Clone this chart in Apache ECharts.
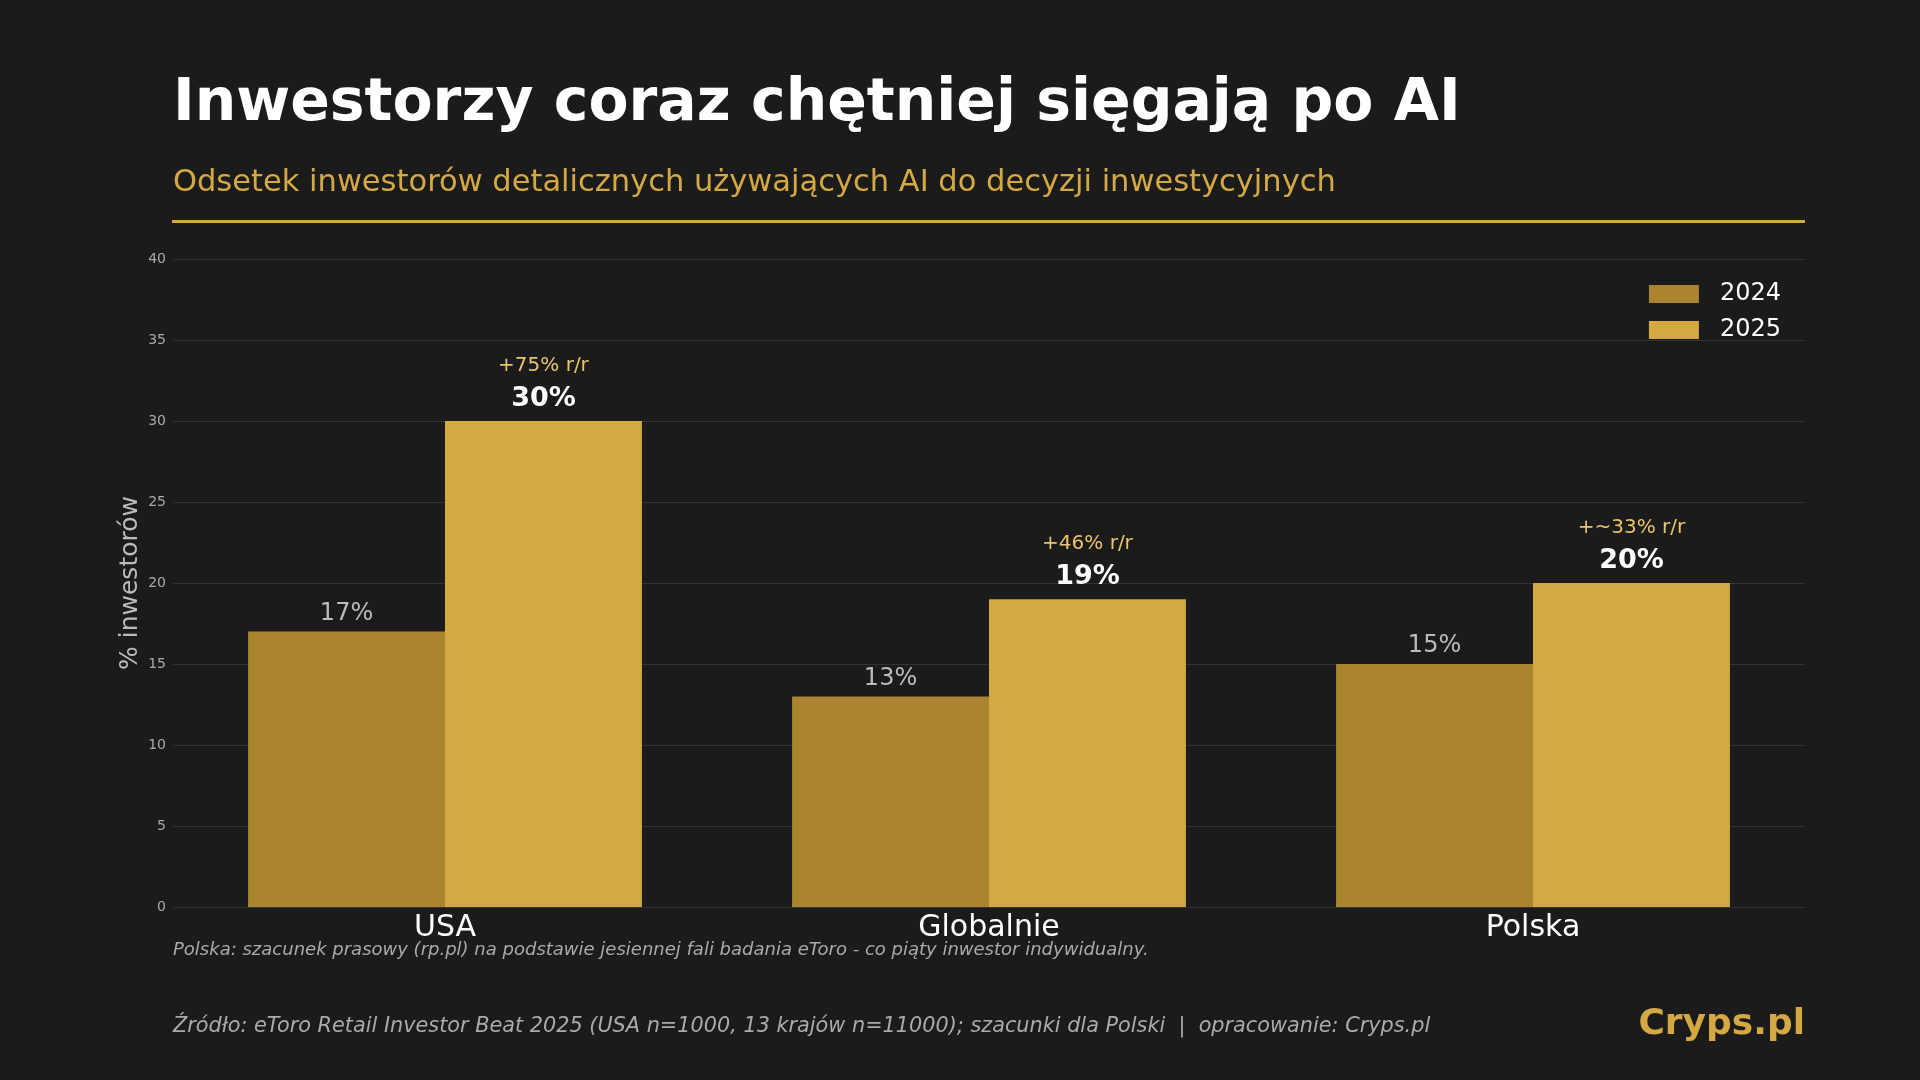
<!DOCTYPE html>
<html><head><meta charset="utf-8">
<script src="https://cdn.jsdelivr.net/npm/echarts@6/dist/echarts.min.js"></script>
<style>html,body{margin:0;padding:0;background:#1b1b1b}#c{width:1920px;height:1080px}</style>
</head><body><div id="c"></div>
<script>
const categories = ['USA', 'Globalnie', 'Polska'];
const values2024 = [17, 13, 15];
const values2025 = [30, 19, 20];
const growthLabels = ['+75% r/r', '+46% r/r', '+~33% r/r'];
const yTicks = { min: 0, max: 40, interval: 5 };

const FONT = 'DejaVu Sans';
const chart = echarts.init(document.getElementById('c'));
chart.setOption({
  backgroundColor: '#1b1b1b',
  animation: false,
  textStyle: { fontFamily: FONT },
  grid: { left: 173, right: 115, top: 259, bottom: 173 },
  legend: {
    right: 134, top: 277, orient: 'vertical',
    itemWidth: 50, itemHeight: 18, itemGap: 12,
    icon: 'rect',
    textStyle: { color: '#ffffff', fontSize: 24, fontFamily: FONT, padding: [0, 0, 0, 16] },
    data: ['2024', '2025']
  },
  xAxis: {
    type: 'category', data: categories,
    axisLine: { show: false }, axisTick: { show: false },
    axisLabel: { color: '#ffffff', fontSize: 30, margin: 6, fontFamily: FONT }
  },
  yAxis: {
    type: 'value', min: yTicks.min, max: yTicks.max, interval: yTicks.interval,
    name: '% inwestorów', nameLocation: 'middle', nameGap: 30, nameMoveOverlap: false,
    nameTextStyle: { color: '#bbbbbb', fontSize: 25, fontFamily: FONT },
    axisLabel: { color: '#aaaaaa', fontSize: 14, margin: 7, fontFamily: FONT },
    splitLine: { lineStyle: { color: '#333333', width: 1 } },
    axisLine: { show: false }, axisTick: { show: false }
  },
  series: [
    {
      name: '2024', type: 'bar', data: values2024,
      barGap: '0%', barCategoryGap: '27.6%',
      itemStyle: { color: '#aa842f' },
      label: { show: true, position: 'top', distance: 6, formatter: '{c}%',
        color: '#bbbbbb', fontSize: 24, fontFamily: FONT }
    },
    {
      name: '2025', type: 'bar', data: values2025,
      itemStyle: { color: '#d4a843' },
      label: { show: true, position: 'top', distance: 7,
        formatter: p => '{g|' + growthLabels[p.dataIndex] + '}\n{v|' + p.value + '%}',
        rich: {
          g: { color: '#e8c56a', fontSize: 20, lineHeight: 36, fontFamily: FONT },
          v: { color: '#ffffff', fontSize: 27, fontWeight: 'bold', lineHeight: 30, fontFamily: FONT }
        }
      }
    }
  ],
  graphic: [
    { type: 'text', x: 173, y: 105, style: { text: 'Inwestorzy coraz chętniej sięgają po AI',
      fill: '#ffffff', font: 'bold 58.4px "DejaVu Sans"', verticalAlign: 'middle' } , z: 10},
    { type: 'text', x: 173, y: 183, style: { text: 'Odsetek inwestorów detalicznych używających AI do decyzji inwestycyjnych',
      fill: '#d4a843', font: '30.5px "DejaVu Sans"', verticalAlign: 'middle' } },
    { type: 'rect', shape: { x: 172, y: 220, width: 1633, height: 3 }, style: { fill: '#d4a843' } },
    { type: 'text', x: 173, y: 950, style: { text: 'Polska: szacunek prasowy (rp.pl) na podstawie jesiennej fali badania eToro - co piąty inwestor indywidualny.',
      fill: '#aaaaaa', font: 'italic 18px "DejaVu Sans"', verticalAlign: 'middle' } },
    { type: 'text', x: 173, y: 1027, style: { text: 'Źródło: eToro Retail Investor Beat 2025 (USA n=1000, 13 krajów n=11000); szacunki dla Polski  |  opracowanie: Cryps.pl',
      fill: '#aaaaaa', font: 'italic 20.8px "DejaVu Sans"', verticalAlign: 'middle' } },
    { type: 'text', x: 1805, y: 1025, style: { text: 'Cryps.pl', align: 'right',
      fill: '#d4a843', font: 'bold 36px "DejaVu Sans"', verticalAlign: 'middle' } }
  ]
});
</script></body></html>
